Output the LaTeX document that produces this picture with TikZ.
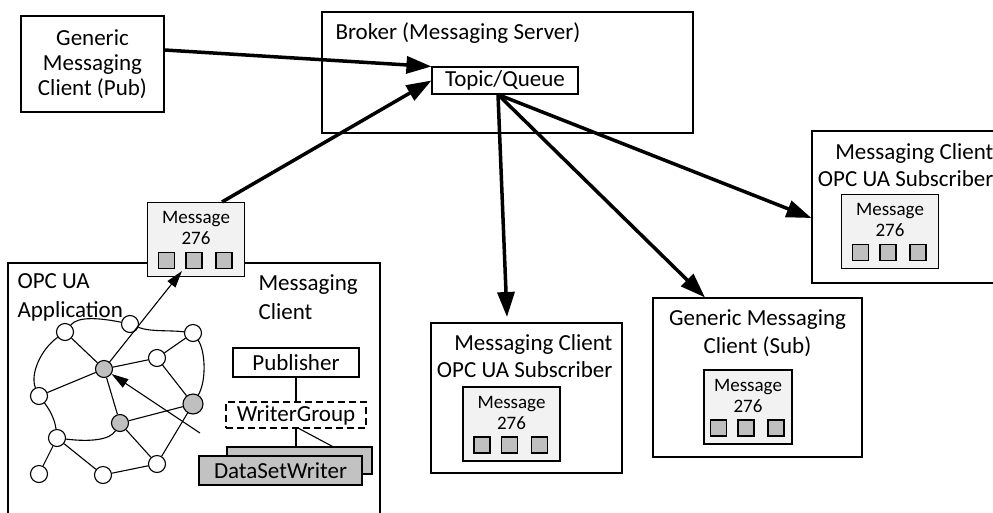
\documentclass[tikz,border=0pt]{standalone}
\usepackage{fontspec}
\setmainfont{Carlito}
\usetikzlibrary{arrows.meta,positioning}
\definecolor{msgfill}{gray}{0.95}
\definecolor{sqfill}{gray}{0.75}
\definecolor{dswfill}{gray}{0.76}
\tikzset{
  box/.style={draw, inner sep=0pt},
  lbl/.style={font=\fontsize{23}{27}\selectfont, inner sep=0pt},
  msgbox/.style={draw, fill=msgfill, minimum height=74pt, inner sep=0pt},
  msglbl/.style={font=\fontsize{19}{21}\selectfont, inner sep=0pt, align=center},
  sq/.style={draw, fill=sqfill, minimum size=16pt, inner sep=0pt},
  netpt/.style={circle, draw, fill=white, minimum size=17pt, inner sep=0pt},
  netgray/.style={netpt, fill=sqfill},
  bigarrow/.style={line width=3.5pt, -{Triangle[length=25pt,width=17pt]}},
  thinarrow/.style={-{Triangle[length=17pt,width=10pt]}},
}
% message with its three fields
\newcommand{\msgblock}[4][97]{% width, name, centre x, centre y
  \node[msgbox, minimum width=#1pt] (#2) at (#3,#4) {};
  \node[msglbl] (#2-txt) at ([yshift=-26.5pt]#2.north) {Message\\276};
  \foreach \dx [count=\i] in {-29.5,-2,28}
    \node[sq] (#2-sq\i) at ([xshift=\dx pt,yshift=-58.5pt]#2.north) {};
}
\begin{document}
\begin{tikzpicture}[x=1pt,y=-1pt,line width=1.1pt]
\useasboundingbox (0,0) rectangle (993,512);
%publisher client
\node[box, lbl, minimum width=143pt, minimum height=96pt, align=center, font=\fontsize{23}{25}\selectfont] (pub) at (92.5,64) {Generic\\Messaging\\Client (Pub)};
%broker
\node[box, minimum width=371pt, minimum height=121pt] (broker) at (507.5,72.5) {};
\node[lbl, anchor=west] (brokerlbl) at (335,33) {Broker (Messaging Server)};
\node[box, lbl, minimum width=146pt, minimum height=27pt] (topic) at (505,80.5) {Topic/Queue};
%OPC UA application
\node[box, minimum width=372pt, minimum height=257pt] (app) at (194,391.5) {};
\node[lbl, anchor=west, align=left, font=\fontsize{23}{29}\selectfont] (applbl) at (17,297.5) {OPC UA\\Application};
\node[lbl, anchor=west, align=left, font=\fontsize{23}{29}\selectfont] (clientlbl) at (258,297.5) {Messaging\\Client};
\node[box, lbl, minimum width=126pt, minimum height=29pt] (publ) at (296,362.5) {Publisher};
\node[box, lbl, dashed, dash pattern=on 7pt off 4pt, minimum width=140pt, minimum height=26pt] (wg) at (296,415) {WriterGroup};
\node[box, fill=dswfill, minimum width=145pt, minimum height=27pt] (dswb) at (299.5,460.5) {};
\draw ([xshift=3pt]wg.south) -- ([xshift=33pt]dswb.north);
\draw (wg.south) -- (wg.south |- dswb.north);
\node[box, lbl, fill=dswfill, minimum width=163pt, minimum height=29pt] (dswf) at (280.5,470.5) {DataSetWriter};
\draw (publ) -- (wg);
\msgblock{m0}{196}{239.5}
%address space
\node[netpt] (n1) at (65,332) {};
\node[netpt] (n2) at (130,324) {};
\node[netpt] (n3) at (193,333) {};
\node[netpt] (n4) at (157,358) {};
\node[netgray] (n5) at (104,369) {};
\node[netpt] (n6) at (39,396) {};
\node[netgray, minimum size=20pt] (n7) at (193,404) {};
\node[netgray] (n8) at (120,423) {};
\node[netpt] (n9) at (57,438) {};
\node[netpt] (n10) at (157,464) {};
\node[netpt] (n11) at (39,474) {};
\node[netpt] (n12) at (103,475) {};
\foreach \a/\b in {n1/n5,n5/n4,n4/n3,n4/n7,n5/n6,n5/n8,n8/n7,n8/n10,n7/n10,n10/n12,n12/n9,n9/n11}
  \draw (\a) -- (\b);
\draw (n1) .. controls (78,316) and (100,318) .. (n2);
\draw (n2) .. controls (150,332) and (170,330) .. (n3);
\draw (n3) .. controls (205,350) and (207,380) .. (n7);
\draw (n1) .. controls (40,350) and (30,375) .. (n6);
\draw (n6) .. controls (50,410) and (55,420) .. (n9);
\draw (n9) .. controls (90,442) and (110,440) .. (n8);
\coordinate (m0in) at (182,271);
\coordinate (dswtail) at (200,433);
\draw[thinarrow] (n5) -- (m0in);
\draw[thinarrow] (dswtail) -- (n5);
%subscribers
\node[box, minimum width=191pt, minimum height=150pt] (midsub) at (526.5,398) {};
\node[lbl, anchor=east, align=right] (midlbl) at (613,356.5) {Messaging Client\\OPC UA Subscriber};
\msgblock{m1}{511.5}{424}
\node[box, minimum width=209pt, minimum height=159pt] (gensub) at (757.5,377.5) {};
\node[lbl, align=center, font=\fontsize{23}{28}\selectfont] (genlbl) at (757.5,333.5) {Generic Messaging\\Client (Sub)};
\msgblock[88]{m2}{748}{407}
\node[box, minimum width=191pt, minimum height=152pt] (rsub) at (907.5,207) {};
\node[lbl, anchor=east, align=right] (rlbl) at (994,165) {Messaging Client\\OPC UA Subscriber};
\msgblock{m3}{890}{231.5}
%message flow
\draw[bigarrow] ([yshift=14pt]pub.east) -- (topic.north west);
\draw[bigarrow] ([xshift=26pt]m0.north) -- (topic.west);
\coordinate (tq) at ([xshift=-7pt]topic.south);
\coordinate (midin) at (507,317);
\draw[bigarrow] (tq) -- (midin);
\draw[bigarrow] (tq) -- ([xshift=-52.5pt]gensub.north);
\draw[bigarrow] (tq) -- ([yshift=-11pt]rsub.west);
\end{tikzpicture}
\end{document}
